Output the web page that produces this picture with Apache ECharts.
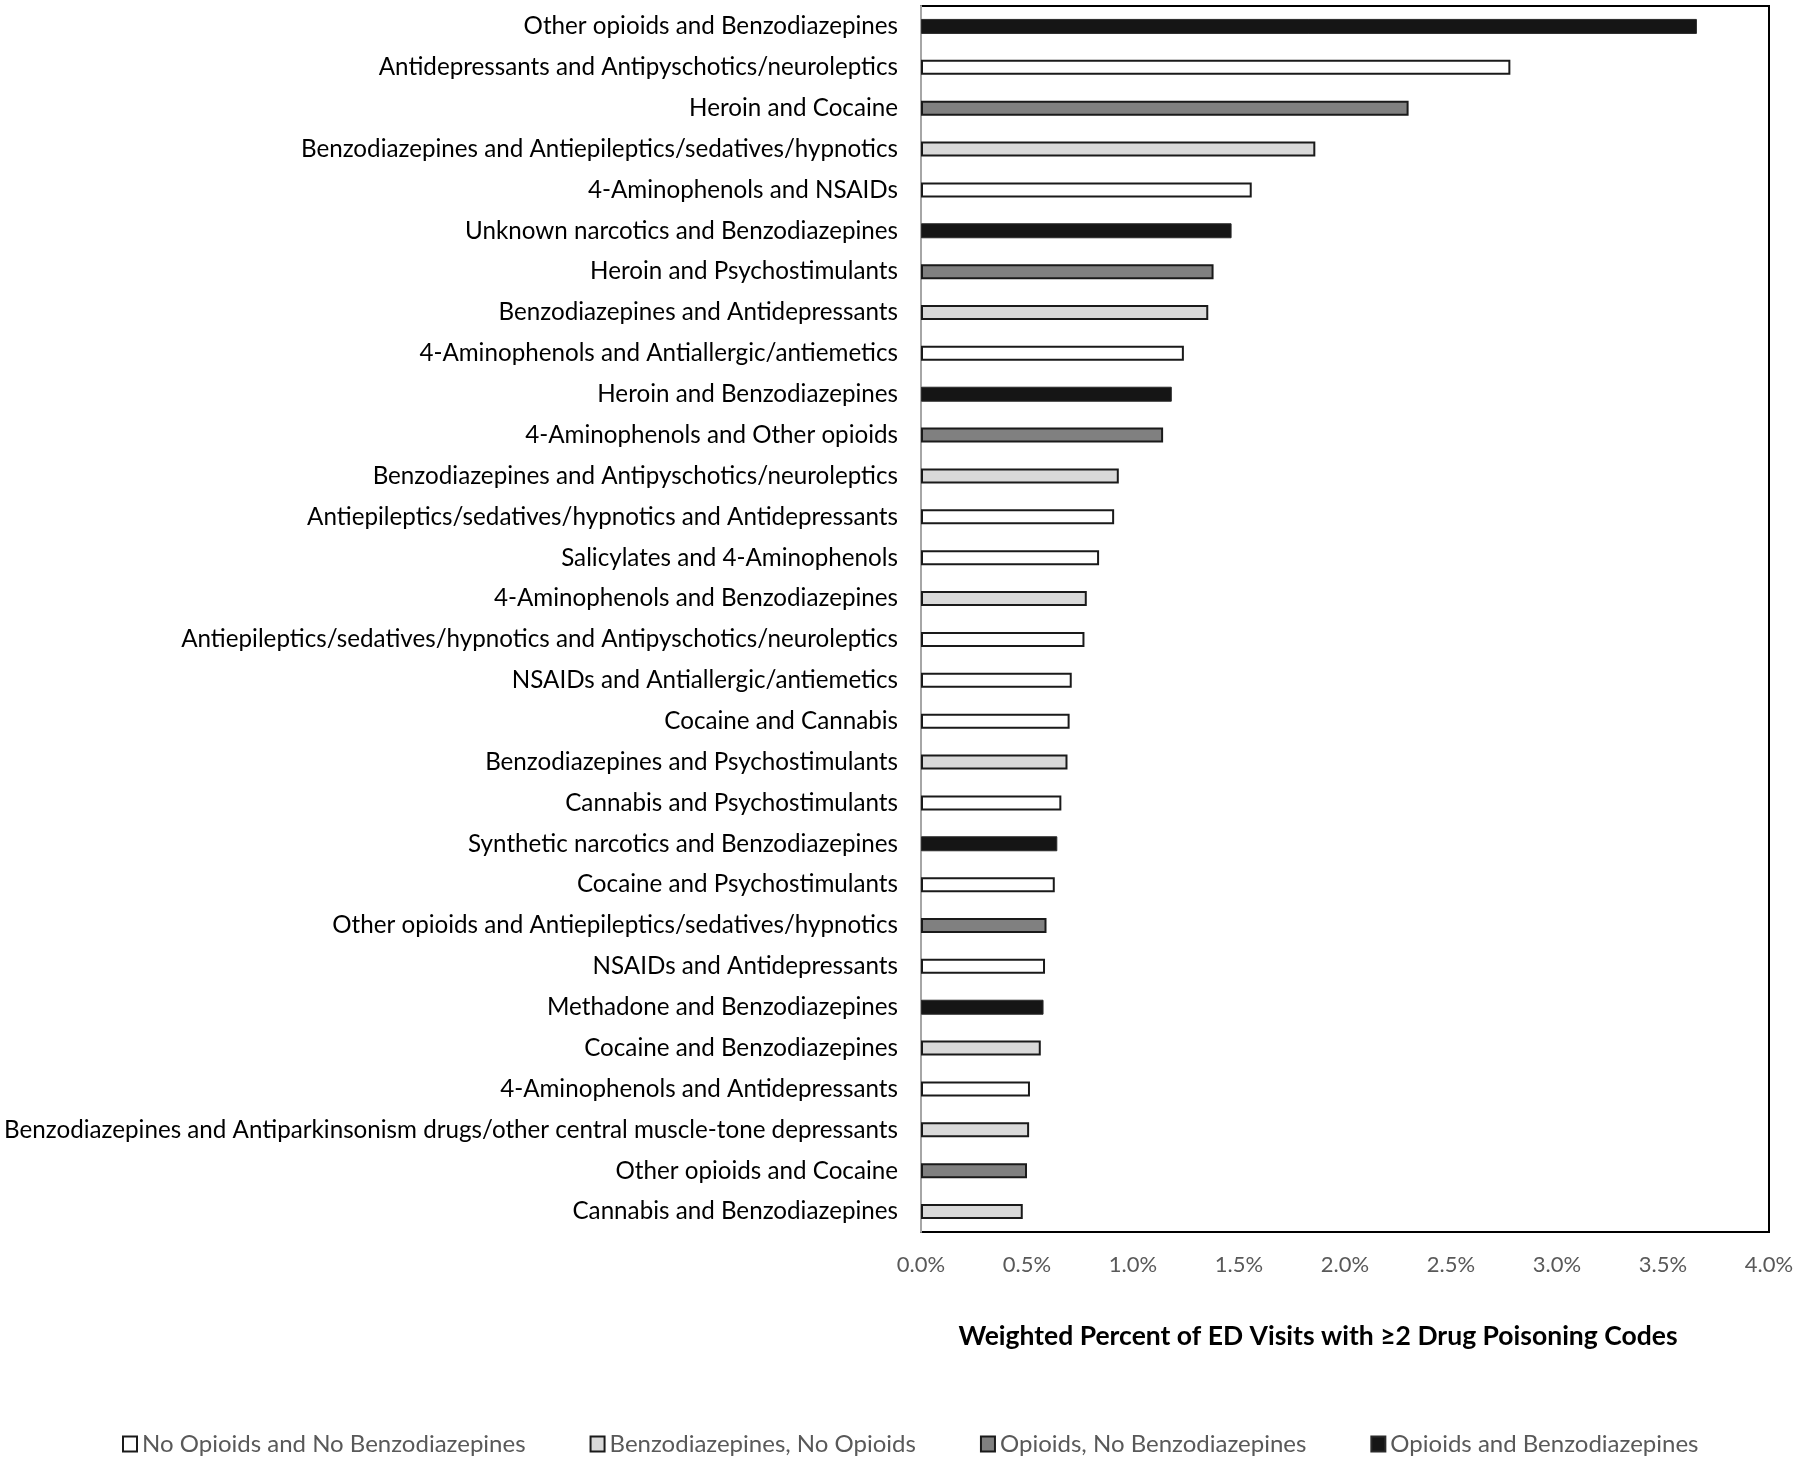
<!DOCTYPE html>
<html>
<head>
<meta charset="utf-8">
<script src="https://cdn.jsdelivr.net/npm/echarts@6/dist/echarts.min.js"></script>
<style>
html,body{margin:0;padding:0;background:#fff;}
#chart{width:1800px;height:1460px;}
</style>
</head>
<body>
<div id="chart"></div>
<script>
var categories = [
  "Other opioids and Benzodiazepines",
  "Antidepressants and Antipyschotics/neuroleptics",
  "Heroin and Cocaine",
  "Benzodiazepines and Antiepileptics/sedatives/hypnotics",
  "4-Aminophenols and NSAIDs",
  "Unknown narcotics and Benzodiazepines",
  "Heroin and Psychostimulants",
  "Benzodiazepines and Antidepressants",
  "4-Aminophenols and Antiallergic/antiemetics",
  "Heroin and Benzodiazepines",
  "4-Aminophenols and Other opioids",
  "Benzodiazepines and Antipyschotics/neuroleptics",
  "Antiepileptics/sedatives/hypnotics and Antidepressants",
  "Salicylates and 4-Aminophenols",
  "4-Aminophenols and Benzodiazepines",
  "Antiepileptics/sedatives/hypnotics and Antipyschotics/neuroleptics",
  "NSAIDs and Antiallergic/antiemetics",
  "Cocaine and Cannabis",
  "Benzodiazepines and Psychostimulants",
  "Cannabis and Psychostimulants",
  "Synthetic narcotics and Benzodiazepines",
  "Cocaine and Psychostimulants",
  "Other opioids and Antiepileptics/sedatives/hypnotics",
  "NSAIDs and Antidepressants",
  "Methadone and Benzodiazepines",
  "Cocaine and Benzodiazepines",
  "4-Aminophenols and Antidepressants",
  "Benzodiazepines and Antiparkinsonism drugs/other central muscle-tone depressants",
  "Other opioids and Cocaine",
  "Cannabis and Benzodiazepines"
];
var values = [3.66, 2.78, 2.30, 1.86, 1.56, 1.465, 1.38, 1.355, 1.24, 1.183, 1.142,
  0.933, 0.911, 0.84, 0.782, 0.771, 0.711, 0.701, 0.691, 0.662, 0.643, 0.631,
  0.592, 0.585, 0.578, 0.565, 0.514, 0.51, 0.5, 0.48];
// group index per category: 0 none, 1 benzo only, 2 opioids only, 3 both
var groups = [3, 0, 2, 1, 0, 3, 2, 1, 0, 3, 2, 1, 0, 0, 1, 0, 0, 0, 1, 0, 3, 0, 2, 0, 3, 1, 0, 1, 2, 1];
var groupNames = ["No Opioids and No Benzodiazepines", "Benzodiazepines, No Opioids", "Opioids, No Benzodiazepines", "Opioids and Benzodiazepines"];
var xTicks = [0, 0.5, 1.0, 1.5, 2.0, 2.5, 3.0, 3.5, 4.0];

var fills = ["#ffffff", "#d9d9d9", "#808080", "#151515"];
var borders = ["#1a1a1a", "#1a1a1a", "#1a1a1a", "#2a2a2a"];
var FONT = "Lato";

var series = groupNames.map(function (name, g) {
  return {
    name: name,
    type: "bar",
    stack: "all",
    barWidth: 15,
    itemStyle: { color: fills[g], borderColor: borders[g], borderWidth: g === 3 ? 1 : 2 },
    data: values.map(function (v, i) { return groups[i] === g ? v : "-"; })
  };
});

var chart = echarts.init(document.getElementById("chart"), null, { renderer: "canvas" });
chart.setOption({
  backgroundColor: "#ffffff",
  animation: false,
  textStyle: { fontFamily: FONT },
  legend: {
    left: 117,
    top: 1427,
    icon: "rect",
    itemWidth: 14,
    itemHeight: 15,
    itemGap: 64,
    textStyle: { fontFamily: FONT, fontSize: 24, color: "#595959" },
    data: groupNames
  },
  grid: {
    left: 921, right: 31, top: 6, bottom: 228,
    show: true, borderColor: "#000", borderWidth: 2, backgroundColor: "transparent"
  },
  xAxis: {
    type: "value",
    min: xTicks[0],
    max: xTicks[xTicks.length - 1],
    interval: 0.5,
    axisLine: { show: false },
    axisTick: { show: false },
    splitLine: { show: false },
    axisLabel: {
      margin: 22,
      fontFamily: FONT, fontSize: 22, color: "#595959",
      formatter: function (v) { return v.toFixed(1) + "%"; }
    },
    name: "Weighted Percent of ED Visits with \u22652 Drug Poisoning Codes",
    nameLocation: "middle",
    nameGap: 91,
    nameTextStyle: { fontFamily: FONT, fontSize: 26.5, fontWeight: "bold", color: "#000", padding: [0, 54, 0, 0] }
  },
  yAxis: {
    type: "category",
    inverse: true,
    data: categories,
    axisLine: { show: true, lineStyle: { color: "#a6a6a6", width: 2 } },
    axisTick: { show: false },
    axisLabel: { margin: 23, fontFamily: FONT, fontSize: 24.2, color: "#000" }
  },
  series: series
});
</script>
</body>
</html>
